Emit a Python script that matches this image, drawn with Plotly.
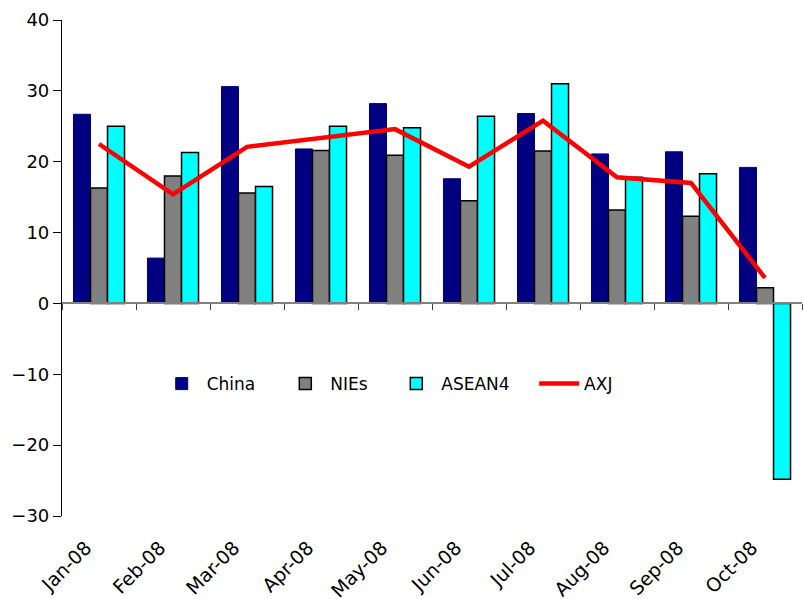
import plotly.graph_objects as go

months = ["Jan-08", "Feb-08", "Mar-08", "Apr-08", "May-08",
          "Jun-08", "Jul-08", "Aug-08", "Sep-08", "Oct-08"]
china = [26.7, 6.4, 30.6, 21.8, 28.2, 17.6, 26.8, 21.1, 21.4, 19.2]
nies = [16.3, 18.0, 15.6, 21.6, 20.9, 14.5, 21.5, 13.2, 12.3, 2.2]
asean4 = [25.0, 21.3, 16.5, 25.0, 24.8, 26.4, 31.0, 17.8, 18.3, -24.8]
axj = [22.5, 15.4, 22.1, 23.4, 24.6, 19.3, 25.8, 17.8, 17.0, 3.6]

y_min, y_max = -30, 40
font_family = "DejaVu Sans, Verdana, sans-serif"

fig = go.Figure()
fig.add_trace(go.Bar(name="China", x=months, y=china, legend="legend",
                     marker=dict(color="#000080", line=dict(color="#000080", width=1))))
fig.add_trace(go.Bar(name="NIEs", x=months, y=nies, legend="legend2",
                     marker=dict(color="#808080", line=dict(color="#000000", width=1.5))))
fig.add_trace(go.Bar(name="ASEAN4", x=months, y=asean4, legend="legend3",
                     marker=dict(color="#00FFFF", line=dict(color="#000000", width=1.5))))
fig.add_trace(go.Scatter(name="AXJ", x=months, y=axj, mode="lines", legend="legend4",
                         line=dict(color="#FF0000", width=4.5)))
# invisible trace that carries the bottom label axis
fig.add_trace(go.Scatter(x=months, y=[0] * len(months), xaxis="x2", mode="lines",
                         line=dict(color="rgba(0,0,0,0)"), showlegend=False,
                         hoverinfo="skip"))

zero_pos = (0 - y_min) / (y_max - y_min)

legend_style = dict(orientation="h", y=0.266, xanchor="left", yanchor="middle",
                    font=dict(size=17, family=font_family),
                    bgcolor="rgba(0,0,0,0)", itemwidth=40)

fig.update_layout(
    width=804, height=599,
    margin=dict(l=62, r=2, t=20, b=83),
    paper_bgcolor="white", plot_bgcolor="white",
    barmode="group", bargap=0.31, bargroupgap=0,
    font=dict(family=font_family, size=17, color="#000000"),
    xaxis=dict(
        type="category", range=[-0.5, len(months) - 0.5],
        anchor="free", position=zero_pos, automargin=False,
        showline=True, linecolor="#808080", linewidth=1.5,
        ticks="outside", tickson="boundaries", ticklen=6,
        tickcolor="#404040", tickwidth=1,
        showticklabels=False, showgrid=False, zeroline=False,
    ),
    xaxis2=dict(
        type="category", matches="x", overlaying="x", anchor="y", side="bottom",
        automargin=False,
        showline=False, ticks="", showgrid=False, zeroline=False,
        tickangle=-45, tickfont=dict(size=19, family=font_family),
        ticklabelshift=-13, ticklabelstandoff=16,
    ),
    yaxis=dict(
        range=[y_min, y_max], dtick=10, automargin=False,
        showline=True, linecolor="#000000", linewidth=1.2,
        ticks="outside", ticklen=8, tickcolor="#000000",
        showgrid=False, zeroline=False,
        tickfont=dict(size=18, family=font_family),
    ),
    legend=dict(legend_style, x=0.128),
    legend2=dict(legend_style, x=0.295),
    legend3=dict(legend_style, x=0.445),
    legend4=dict(legend_style, x=0.638),
    showlegend=True,
)

fig.write_html("out.html")
